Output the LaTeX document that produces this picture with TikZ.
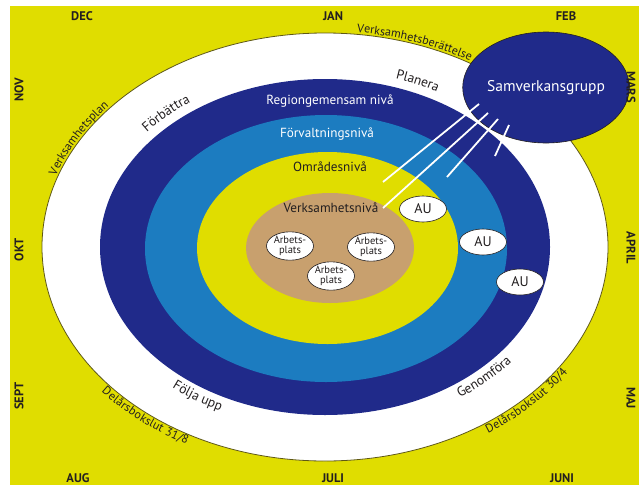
\documentclass[tikz,border=0pt]{standalone}
\usepackage{fontspec}
\setmainfont{PT Sans}
\usetikzlibrary{decorations.text,calc,shapes.geometric}
\definecolor{bgyellow}{RGB}{224,221,0}
\definecolor{navy}{RGB}{32,42,138}
\definecolor{midblue}{RGB}{28,124,192}
\definecolor{tanbrown}{RGB}{200,160,110}
\definecolor{olive}{RGB}{95,88,20}
\definecolor{ink}{RGB}{35,31,32}
\newcommand{\fs}[1]{\fontsize{#1}{#1}\selectfont}
\tikzset{
  month/.style={font=\bfseries\fs{12.5}, text=ink, inner sep=0pt},
  level/.style={font=\fs{13.2}, inner sep=0pt},
  au/.style={ellipse, draw=ink, line width=0.6pt, fill=white, minimum width=47pt, minimum height=26pt, inner sep=0pt, font=\fs{14}, text=ink},
  ap/.style={ellipse, draw=ink, line width=0.6pt, fill=white, minimum width=47pt, minimum height=27pt, inner sep=0pt, align=center, font=\fontsize{10.5}{10.5}\selectfont, text=ink},
  wline/.style={draw=white, line width=1.8pt},
  curved/.style={decorate, decoration={text along path, text align=center, #1}},
}
\begin{document}
\begin{tikzpicture}[x=1pt,y=-1pt]
\useasboundingbox (0,0) rectangle (639,485);
\fill[white] (0,0) rectangle (639,485);
\fill[bgyellow] (10,6) rectangle (639,485);
% rings
\coordinate (C) at (325,247);
\fill[white, draw=olive, line width=0.8pt] (C) ellipse [x radius=283pt, y radius=214pt];
\fill[navy] (325,247) ellipse [x radius=225pt, y radius=168pt];
\fill[midblue] (326,248.5) ellipse [x radius=181pt, y radius=133.5pt];
\fill[bgyellow] (327.5,248) ellipse [x radius=130.5pt, y radius=96pt];
\fill[tanbrown] (330,248) ellipse [x radius=84pt, y radius=55pt];
% samverkansgrupp
\node[ellipse, draw=ink, line width=0.6pt, fill=navy, minimum width=152pt, minimum height=111pt, inner sep=0pt, text=white, font=\fs{15.5}] (sam) at (546,87.5) {Samverkansgrupp};
% lines
\coordinate (l1s) at (479,104); \coordinate (l1e) at (383,182);
\coordinate (l2s) at (488,113); \coordinate (l2e) at (383,208);
\coordinate (l3s) at (498,119); \coordinate (l3e) at (447,177);
\coordinate (l4s) at (509,125); \coordinate (l4e) at (495,156);
\draw[wline] (l1s) -- (l1e);
\draw[wline] (l2s) -- (l2e);
\draw[wline] (l3s) -- (l3e);
\draw[wline] (l4s) -- (l4e);
% level labels
\node[level, text=white] (lreg) at (330,101) {Regiongemensam nivå};
\node[level, text=white] (lforv) at (327,134) {Förvaltningsnivå};
\node[level, text=ink] (lomr) at (330,167) {Områdesnivå};
\node[level, text=ink] (lverk) at (331,208) {Verksamhetsnivå};
% AU and Arbetsplats
\node[au] (au1) at (423,209) {AU};
\node[au] (au2) at (483,242) {AU};
\node[au] (au3) at (520,282) {AU};
\node[ap] (ap1) at (290,246) {Arbets-\\plats};
\node[ap] (ap2) at (371,247) {Arbets-\\plats};
\node[ap] (ap3) at (331,276) {Arbets-\\plats};
% months
\node[month] (dec) at (82,16) {DEC};
\node[month] (jan) at (333,16) {JAN};
\node[month] (feb) at (566,16) {FEB};
\node[month, rotate=-90] (mars) at (631,87) {MARS};
\node[month, rotate=-90] (april) at (631,248) {APRIL};
\node[month, rotate=-90] (maj) at (631,398) {MAJ};
\node[month] (juni) at (562,478) {JUNI};
\node[month] (juli) at (333,478) {JULI};
\node[month] (aug) at (78,478) {AUG};
\node[month, rotate=90] (sept) at (19,396) {SEPT};
\node[month, rotate=90] (okt) at (19,250) {OKT};
\node[month, rotate=90] (nov) at (19,90) {NOV};
% curved outer labels
\path[curved={raise=2pt, text={|\fs{12}\color{ink}|Verksamhetsberättelse}}]
  ($(C)+(94:283pt and 214pt)$) arc[start angle=94, end angle=48, x radius=283pt, y radius=214pt];
\path[curved={raise=2pt, text={|\fs{12}\color{ink}|Verksamhetsplan}}]
  ($(C)+(174:283pt and 214pt)$) arc[start angle=174, end angle=128, x radius=283pt, y radius=214pt];
\path[curved={raise=-10pt, text={|\fs{12}\color{ink}|Delårsbokslut 31/8}}]
  ($(C)+(208:283pt and 214pt)$) arc[start angle=208, end angle=252, x radius=283pt, y radius=214pt];
\path[curved={raise=-10pt, text={|\fs{12}\color{ink}|Delårsbokslut 30/4}}]
  ($(C)+(294:283pt and 214pt)$) arc[start angle=294, end angle=338, x radius=283pt, y radius=214pt];
% curved band labels
\path[curved={text={|\fs{13.5}\color{ink}|Förbättra}}]
  ($(C)+(152:234pt and 177pt)$) arc[start angle=152, end angle=114, x radius=234pt, y radius=177pt];
\path[curved={text={|\fs{13.5}\color{ink}|Planera}}]
  ($(C)+(84:234pt and 177pt)$) arc[start angle=84, end angle=49, x radius=234pt, y radius=177pt];
\path[curved={text={|\fs{13.5}\color{ink}|Följa upp}}]
  ($(C)+(220:241pt and 182pt)$) arc[start angle=220, end angle=254, x radius=241pt, y radius=182pt];
\path[curved={text={|\fs{13.5}\color{ink}|Genomföra}}]
  ($(C)+(295:241pt and 182pt)$) arc[start angle=295, end angle=331, x radius=241pt, y radius=182pt];
\end{tikzpicture}
\end{document}
